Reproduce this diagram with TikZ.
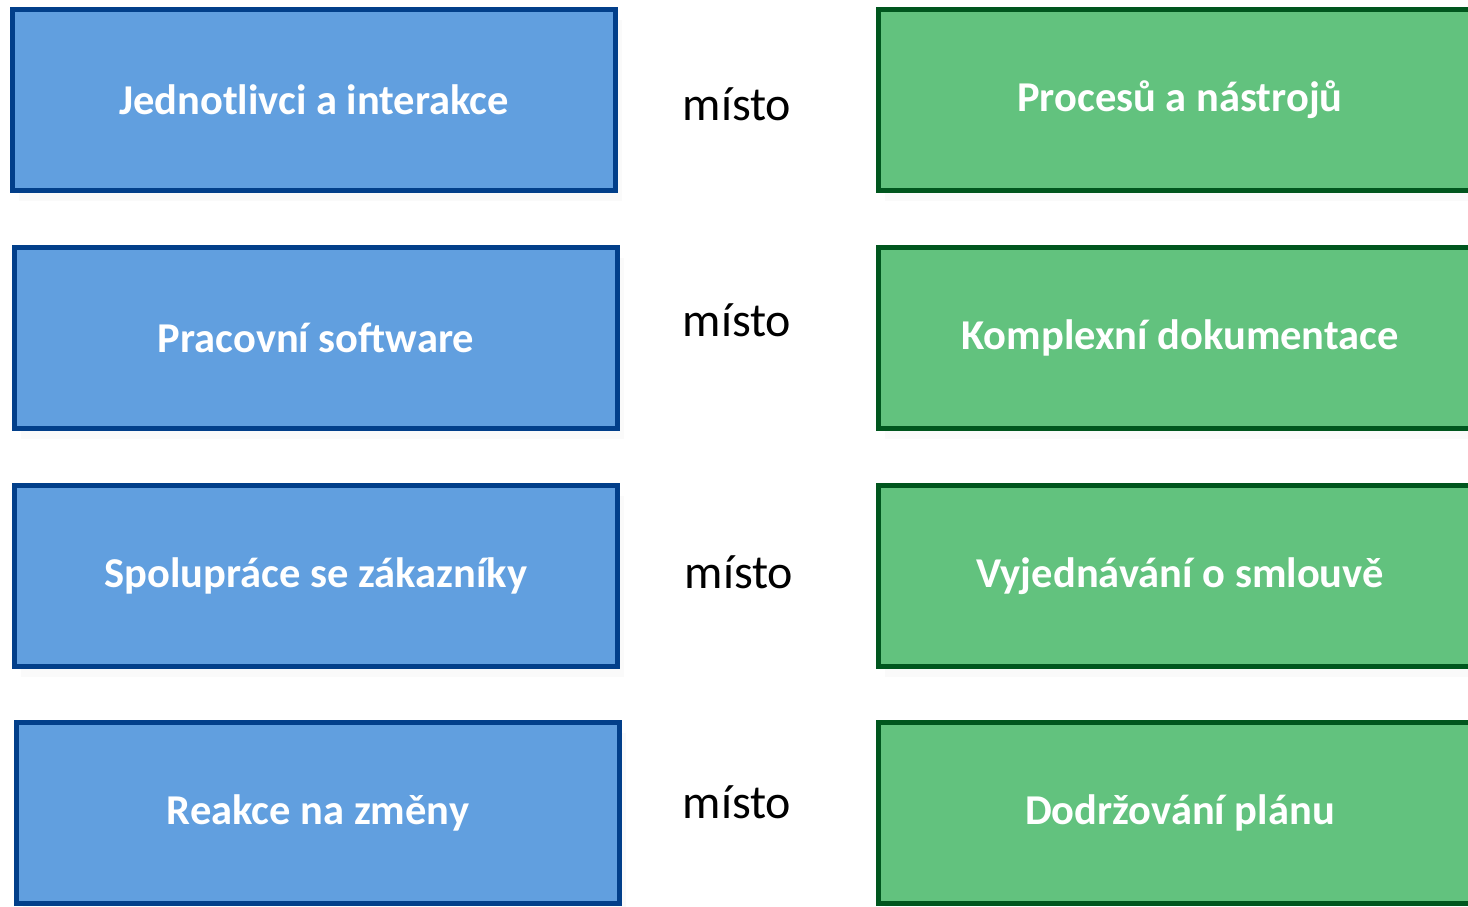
\documentclass[tikz,border=0pt]{standalone}
\usepackage{fontspec}
\setmainfont{Carlito}
\usetikzlibrary{shadows}
\definecolor{modra}{HTML}{619FDF}
\definecolor{modrar}{HTML}{023F8A}
\definecolor{zelena}{HTML}{62C27E}
\definecolor{zelenar}{HTML}{00561E}
\tikzset{
  box/.style={rectangle, line width=5pt, minimum width=603pt, minimum height=181pt,
    text=white, font=\fontsize{42.5}{46}\selectfont\bfseries,
    drop shadow={opacity=0.04, shadow xshift=6pt, shadow yshift=-10pt}},
  levy/.style={box, fill=modra, draw=modrar},
  pravy/.style={box, fill=zelena, draw=zelenar},
  misto/.style={font=\fontsize{48}{52}\selectfont, text=black}
}
\begin{document}
\begin{tikzpicture}[x=1pt,y=-1pt]
  \useasboundingbox (0,0) rectangle (1468,906);
  \clip (0,0) rectangle (1468,906);
  % levy sloupec
  \node[levy] (l1) at (314,100) {Jednotlivci a interakce};
  \node[levy] (l2) at (316,338) {Pracovní software};
  \node[levy] (l3) at (316,576) {Spolupráce se zákazníky};
  \node[levy] (l4) at (318,813) {Reakce na změny};
  % pravy sloupec
  \node[pravy] (p1) at (1180,100) {Procesů a nástrojů};
  \node[pravy] (p2) at (1180,338) {Komplexní dokumentace};
  \node[pravy] (p3) at (1180,576) {Vyjednávání o smlouvě};
  \node[pravy] (p4) at (1180,813) {Dodržování plánu};
  % slovo misto
  \node[misto] (m1) at (737,104) {místo};
  \node[misto] (m2) at (737,320) {místo};
  \node[misto] (m3) at (739,572) {místo};
  \node[misto] (m4) at (737,802) {místo};
\end{tikzpicture}
\end{document}
